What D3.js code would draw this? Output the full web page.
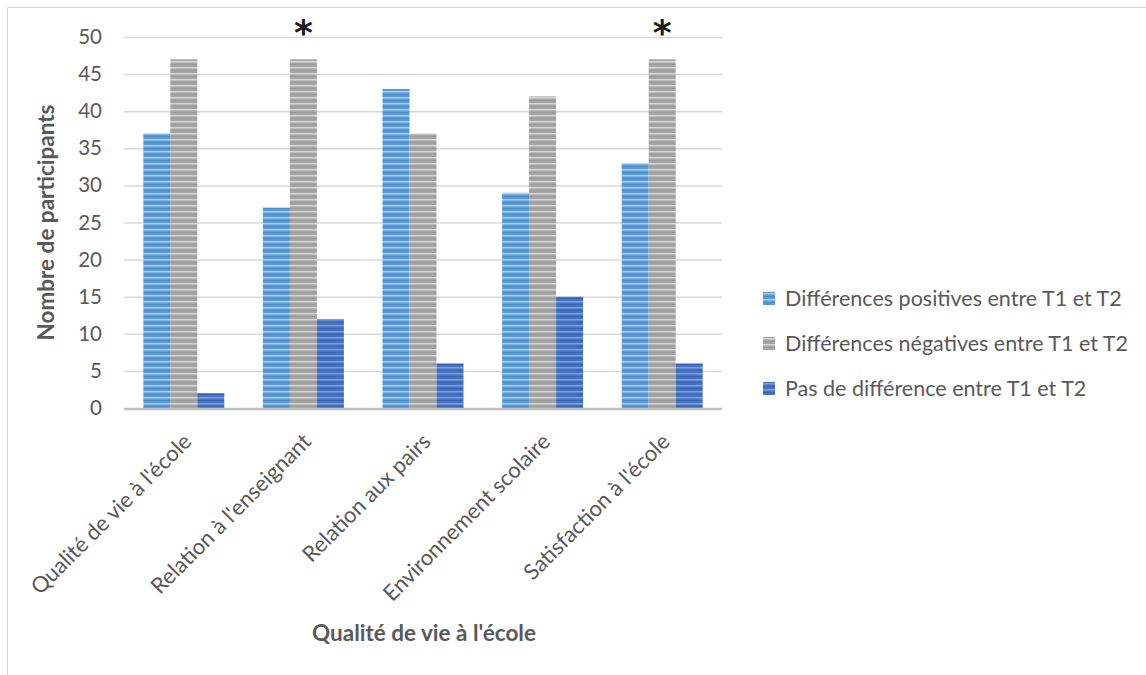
<!DOCTYPE html>
<html>
<head>
<meta charset="utf-8">
<script src="https://cdn.jsdelivr.net/npm/d3@7"></script>
<style>
html,body{margin:0;padding:0;background:#fff;}
svg{display:block;font-family:Lato,"Open Sans",sans-serif;}
</style>
</head>
<body>
<svg id="chart" width="1146" height="675"></svg>
<script>
const categories = ["Qualité de vie à l'école","Relation à l'enseignant","Relation aux pairs","Environnement scolaire","Satisfaction à l'école"];
const seriesNames = ["Différences positives entre T1 et T2","Différences négatives entre T1 et T2","Pas de différence entre T1 et T2"];
const positives = [37, 27, 43, 29, 33];
const negatives = [47, 47, 37, 42, 47];
const noDiff = [2, 12, 6, 15, 6];
const yTicks = [0,5,10,15,20,25,30,35,40,45,50];
const significant = ["Relation à l'enseignant","Satisfaction à l'école"];
const yTitle = "Nombre de participants";
const xTitle = "Qualité de vie à l'école";

(function(){
const seriesValues = [positives, negatives, noDiff];
const colors = [
  {base:"#5b9bd5", light:"#a9cdee", dark:"#4a8ccc"},
  {base:"#a5a5a5", light:"#d6d6d6", dark:"#9a9a9a"},
  {base:"#4472c4", light:"#7f9fdc", dark:"#3a63b0"}
];

const svg = d3.select("#chart");
const defs = svg.append("defs");
colors.forEach((c,i)=>{
  const p = defs.append("pattern").attr("id","pat"+i).attr("patternUnits","userSpaceOnUse")
    .attr("width",8).attr("height",6);
  p.append("rect").attr("width",8).attr("height",6).attr("fill",c.base);
  p.append("rect").attr("y",1).attr("width",8).attr("height",1.5).attr("fill",c.light);
  p.append("rect").attr("y",4).attr("width",8).attr("height",1).attr("fill",c.dark);
});

// frame
svg.append("line").attr("x1",7.5).attr("x2",1146).attr("y1",7.5).attr("y2",7.5).attr("stroke","#d9d9d9");
svg.append("line").attr("x1",7.5).attr("x2",7.5).attr("y1",7.5).attr("y2",675).attr("stroke","#d9d9d9");

const pl = 124, pr = 722, pt = 37, pb = 408;
const y = d3.scaleLinear().domain([0,50]).range([pb, pt]);
const pad = 0.323;
const x0 = d3.scaleBand().domain(categories).range([pl,pr]).paddingInner(pad).paddingOuter(pad/2);
const x1 = d3.scaleBand().domain(d3.range(3)).range([0,x0.bandwidth()]);

// gridlines
svg.append("g").selectAll("line").data(yTicks.filter(d=>d>0)).join("line")
  .attr("x1",pl).attr("x2",pr).attr("y1",d=>y(d)+0.5).attr("y2",d=>y(d)+0.5)
  .attr("stroke","#d9d9d9").attr("stroke-width",1.5);

// y axis labels
const yAxis = d3.axisLeft(y).tickValues(yTicks).tickSize(0).tickPadding(0);
const ya = svg.append("g").attr("transform",`translate(${pl-22},0)`).call(yAxis);
ya.select(".domain").remove();
ya.selectAll("text").attr("font-size",20.5).attr("fill","#595959").attr("font-family","Lato,sans-serif");

// bars
const g = svg.append("g");
categories.forEach((cat,ci)=>{
  seriesValues.forEach((vals,si)=>{
    g.append("rect")
      .attr("x", x0(cat)+x1(si))
      .attr("y", y(vals[ci]))
      .attr("width", x1.bandwidth())
      .attr("height", y(0)-y(vals[ci]))
      .attr("fill", `url(#pat${si})`);
  });
});

// x axis line
svg.append("line").attr("x1",pl).attr("x2",pr).attr("y1",y(0)+1).attr("y2",y(0)+1)
  .attr("stroke","#bfbfbf").attr("stroke-width",2.5);

// category labels
const xAxis = d3.axisBottom(x0).tickSize(0).tickPadding(0);
const xa = svg.append("g").attr("transform",`translate(0,${pb})`).call(xAxis);
xa.select(".domain").remove();
xa.selectAll("text")
  .attr("font-size",22).attr("fill","#595959").attr("font-family","Lato,sans-serif")
  .attr("text-anchor","end").attr("dy",null).attr("y",null)
  .attr("transform","translate(9,35) rotate(-45)");

// significance asterisks
svg.append("g").selectAll("text").data(significant).join("text")
  .attr("x",d=>x0(d)+x1(1)+x1.bandwidth()/2)
  .attr("y",45)
  .attr("text-anchor","middle")
  .attr("font-size",36).attr("font-weight","bold").attr("font-family","DejaVu Sans,sans-serif").attr("fill","#1a1a1a")
  .text("*");

// axis titles
svg.append("text").attr("transform",`translate(54,${(pt+pb)/2}) rotate(-90)`)
  .attr("text-anchor","middle").attr("font-size",22.5).attr("font-weight","bold")
  .attr("fill","#595959").text(yTitle);
svg.append("text").attr("x",(pl+pr)/2 + 1).attr("y",641)
  .attr("text-anchor","middle").attr("font-size",22.5).attr("font-weight","bold")
  .attr("fill","#595959").text(xTitle);

// legend
const lg = svg.append("g").selectAll("g").data(seriesNames).join("g")
  .attr("transform",(d,i)=>`translate(763,${298+i*45})`);
lg.append("rect").attr("x",0).attr("y",-6).attr("width",12).attr("height",13)
  .attr("fill",(d,i)=>`url(#pat${i})`);
lg.append("text").attr("x",22).attr("y",0).attr("dy","0.35em")
  .attr("font-size",21.5).attr("fill","#595959").text(d=>d);
})();
</script>
</body>
</html>
